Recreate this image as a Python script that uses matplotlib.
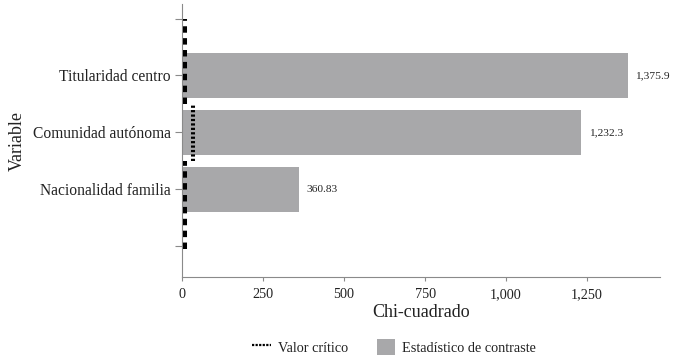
import matplotlib
matplotlib.use("Agg")
import matplotlib.pyplot as plt
from matplotlib.lines import Line2D
from matplotlib.patches import Patch

# Data
categories = ["Nacionalidad familia", "Comunidad autónoma", "Titularidad centro"]
statistic = [360.83, 1232.3, 1375.9]
stat_labels = ["360.83", "1,232.3", "1,375.9"]
critical = [9.49, 32.67, 9.49]
x_ticks = [0, 250, 500, 750, 1000, 1250]
x_ticklabels = ["0", "250", "500", "750", "1,000", "1,250"]

plt.rcParams['font.family'] = ['Liberation Serif', 'DejaVu Serif']

fig = plt.figure(figsize=(7.0, 3.57), dpi=100)
ax = fig.add_axes([0.26, 0.224, 0.683, 0.764])

bar_color = "#a8a8aa"
text_color = "#222222"
spine_color = "#8a8a8a"

pos = [1, 2, 3]
ax.barh(pos, statistic, height=0.79, color=bar_color, zorder=2)
for p, v, lab in zip(pos, statistic, stat_labels):
    ax.text(v + 22, p, lab, va="center", ha="left", fontsize=8.2, color=text_color)

# Critical value segments
n = len(pos)
for i, (p, c) in enumerate(zip(pos, critical)):
    lo, hi = p - 0.5, p + 0.5
    if i == 0:
        lo = p - 1.05
    if i == n - 1:
        hi = p + 1
    if c > 20:
        ls = (0, (0.55, 0.55))
    else:
        ls = (0, (1.6, 1.35))
    ax.plot([c, c], [lo, hi], color="black", lw=2.9, linestyle=ls,
            solid_capstyle="butt", dash_capstyle="butt", zorder=3)

ax.set_xlim(0, 1475)
ax.set_ylim(-0.54, 4.25)
ax.set_xticks(x_ticks)
ax.set_xticklabels(x_ticklabels)
ax.set_yticks([0, 1, 2, 3, 4])
ax.set_yticklabels([""] + categories + [""])

for s in ["top", "right"]:
    ax.spines[s].set_visible(False)
for s in ["left", "bottom"]:
    ax.spines[s].set_color(spine_color)
    ax.spines[s].set_linewidth(0.8)

ax.tick_params(axis="y", length=5, width=0.8, color=spine_color, pad=3,
               labelsize=11.2, labelcolor=text_color)
ax.tick_params(axis="x", length=3, width=0.8, color=spine_color, pad=5,
               labelsize=10.3, labelcolor=text_color)

ax.set_xlabel("Chi-cuadrado", fontsize=13, color=text_color, labelpad=2)
ax.set_ylabel("Variable", fontsize=13, color=text_color, labelpad=5)

handles = [
    Line2D([0], [0], color="black", lw=1.6, linestyle=(0, (1, 0.6))),
    Patch(facecolor=bar_color, edgecolor="none"),
]
fig.legend(handles, ["Valor crítico", "Estadístico de contraste"],
           loc="center", bbox_to_anchor=(0.563, 0.028), ncol=2, frameon=False,
           fontsize=10.3, handlelength=1.3, handleheight=1.4, handletextpad=0.5,
           columnspacing=2.0, labelcolor=text_color)

fig.savefig("out.png", dpi=100)
